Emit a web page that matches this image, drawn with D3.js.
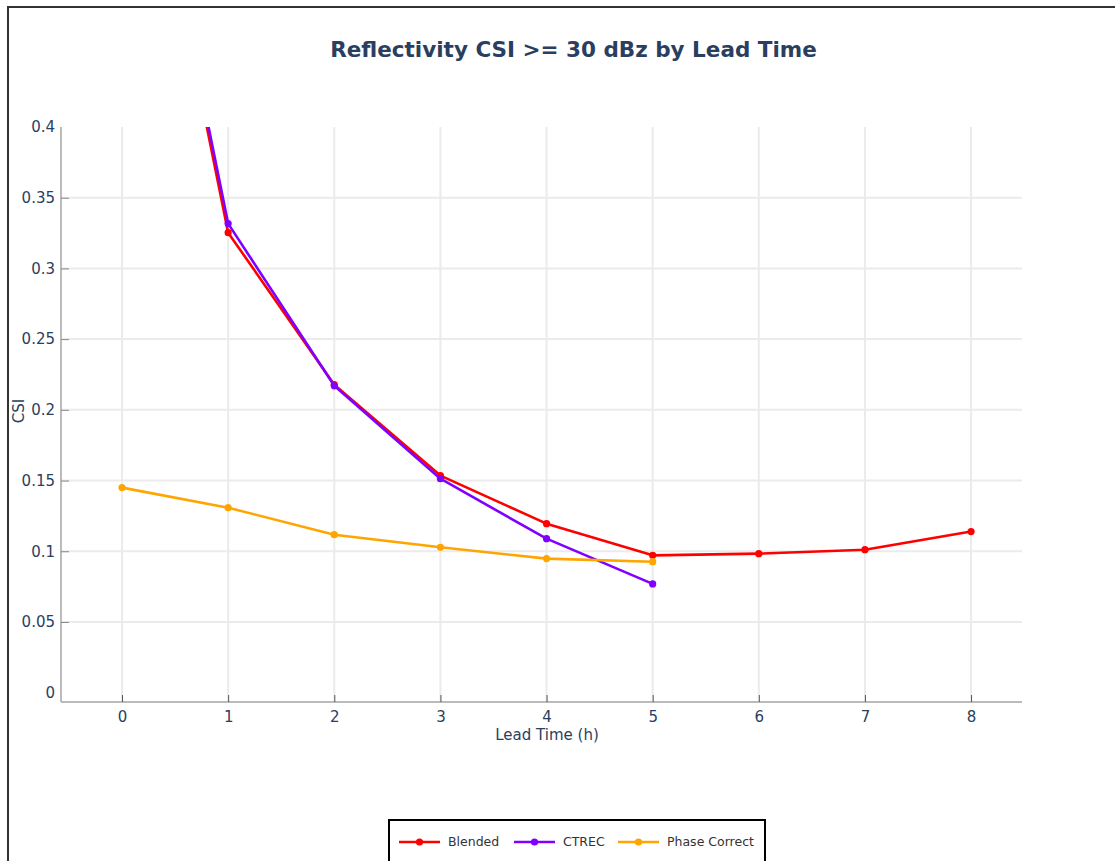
<!DOCTYPE html>
<html>
<head>
<meta charset="utf-8">
<script src="https://cdn.jsdelivr.net/npm/d3@7"></script>
<style>
  html, body { margin: 0; padding: 0; background: #fff; }
  svg { display: block; font-family: "DejaVu Sans", Verdana, sans-serif; }
</style>
</head>
<body>
<svg id="chart" width="1115" height="861"></svg>
<script>
// Lead times (hours) and CSI scores per nowcasting method
const leadTimes = [0, 1, 2, 3, 4, 5, 6, 7, 8];
const blended = [0.697, 0.3253, 0.2178, 0.1535, 0.1195, 0.0971, 0.0983, 0.1011, 0.1139];
const ctrec = [0.702, 0.3317, 0.217, 0.1513, 0.1089, 0.0769];
const phaseCorrect = [0.145, 0.1308, 0.1117, 0.1028, 0.0948, 0.0926];

const seriesNames = ["Blended", "CTREC", "Phase Correct"];
const seriesColors = ["#ff0000", "#8000ff", "#ffa500"];
const yTicks = [0, 0.05, 0.1, 0.15, 0.2, 0.25, 0.3, 0.35, 0.4];
const yTickLabels = ["0", "0.05", "0.1", "0.15", "0.2", "0.25", "0.3", "0.35", "0.4"];

const svg = d3.select("#chart");
const plot = { left: 61, right: 1022, top: 127, bottom: 702 };

const x = d3.scaleLinear().domain([-0.575, 8.48]).range([plot.left, plot.right]);
const y = d3.scaleLinear().domain([-0.0066, 0.4]).range([plot.bottom, plot.top]);

// outer frame
svg.append("rect")
  .attr("x", 8).attr("y", 7).attr("width", 1130).attr("height", 900)
  .attr("fill", "none").attr("stroke", "#333").attr("stroke-width", 2);

// title
svg.append("text")
  .attr("x", 573.5).attr("y", 57)
  .attr("text-anchor", "middle")
  .attr("font-size", 21.5).attr("font-weight", "bold")
  .attr("fill", "#2a3f5f")
  .text("Reflectivity CSI >= 30 dBz by Lead Time");

// grid
const grid = svg.append("g");
grid.selectAll("line.v").data(leadTimes).join("line")
  .attr("x1", d => x(d)).attr("x2", d => x(d))
  .attr("y1", plot.top).attr("y2", plot.bottom)
  .attr("stroke", "#ebebeb").attr("stroke-width", 2);
grid.selectAll("line.h").data(yTicks.filter(d => d > 0 && d < 0.4)).join("line")
  .attr("x1", plot.left).attr("x2", plot.right)
  .attr("y1", d => y(d)).attr("y2", d => y(d))
  .attr("stroke", "#ebebeb").attr("stroke-width", 2);

// axes
const xAxis = d3.axisBottom(x).tickValues(leadTimes).tickSizeInner(-7).tickSizeOuter(0).tickPadding(14);
const yAxis = d3.axisLeft(y).tickValues(yTicks).tickFormat((d, i) => yTickLabels[i]).tickSizeInner(-8).tickSizeOuter(0).tickPadding(6);

const gx = svg.append("g").attr("transform", `translate(0,${plot.bottom})`).call(xAxis);
const gy = svg.append("g").attr("transform", `translate(${plot.left},0)`).call(yAxis);
gx.select(".domain").attr("stroke", "#bbb").attr("stroke-width", 2).attr("d", `M${plot.left},0H${plot.right}`);
gy.select(".domain").attr("stroke", "#bbb").attr("stroke-width", 2).attr("d", `M0,${plot.top}V${plot.bottom}`);
gx.selectAll(".tick line").attr("stroke", "#555");
gy.selectAll(".tick line").attr("stroke", "#888");
gy.selectAll(".tick").filter(d => d === 0 || d === 0.4).select("line").remove();
[gx, gy].forEach(g => g.selectAll(".tick text")
  .attr("fill", "#2a3f5f").attr("font-size", 15).attr("font-family", "DejaVu Sans, sans-serif"));
gx.selectAll(".tick text").attr("dy", "0.35em").attr("y", 15);

// axis titles
svg.append("text").attr("x", 547).attr("y", 740).attr("text-anchor", "middle")
  .attr("font-size", 15).attr("fill", "#2a3f5f").text("Lead Time (h)");
svg.append("text").attr("transform", "translate(24,411) rotate(-90)").attr("text-anchor", "middle")
  .attr("font-size", 15).attr("fill", "#2a3f5f").text("CSI");

// series
svg.append("clipPath").attr("id", "plotClip").append("rect")
  .attr("x", plot.left).attr("y", plot.top)
  .attr("width", plot.right - plot.left).attr("height", plot.bottom - plot.top);

const series = [blended, ctrec, phaseCorrect];
const line = d3.line().x((d, i) => x(leadTimes[i])).y(d => y(d));
const marks = svg.append("g").attr("clip-path", "url(#plotClip)");
series.forEach((vals, k) => {
  marks.append("path").datum(vals)
    .attr("d", line).attr("fill", "none")
    .attr("stroke", seriesColors[k]).attr("stroke-width", 2.6)
    .attr("stroke-linejoin", "round");
  marks.selectAll(null).data(vals).join("circle")
    .attr("cx", (d, i) => x(leadTimes[i])).attr("cy", d => y(d))
    .attr("r", 3.6).attr("fill", seriesColors[k]);
});

// legend
const legend = svg.append("g");
legend.append("rect").attr("x", 389).attr("y", 820).attr("width", 376).attr("height", 60)
  .attr("fill", "#fff").attr("stroke", "#000").attr("stroke-width", 2);
const legendX = [399, 514, 618];
seriesNames.forEach((name, k) => {
  const g = legend.append("g").attr("transform", `translate(${legendX[k]},842)`);
  g.append("line").attr("x1", 0).attr("x2", 41).attr("stroke", seriesColors[k]).attr("stroke-width", 2.6);
  g.append("circle").attr("cx", 20.5).attr("r", 3.6).attr("fill", seriesColors[k]);
  g.append("text").attr("x", 49).attr("dy", "0.35em").attr("font-size", 12.5)
    .attr("fill", "#333").text(name);
});
</script>
</body>
</html>
